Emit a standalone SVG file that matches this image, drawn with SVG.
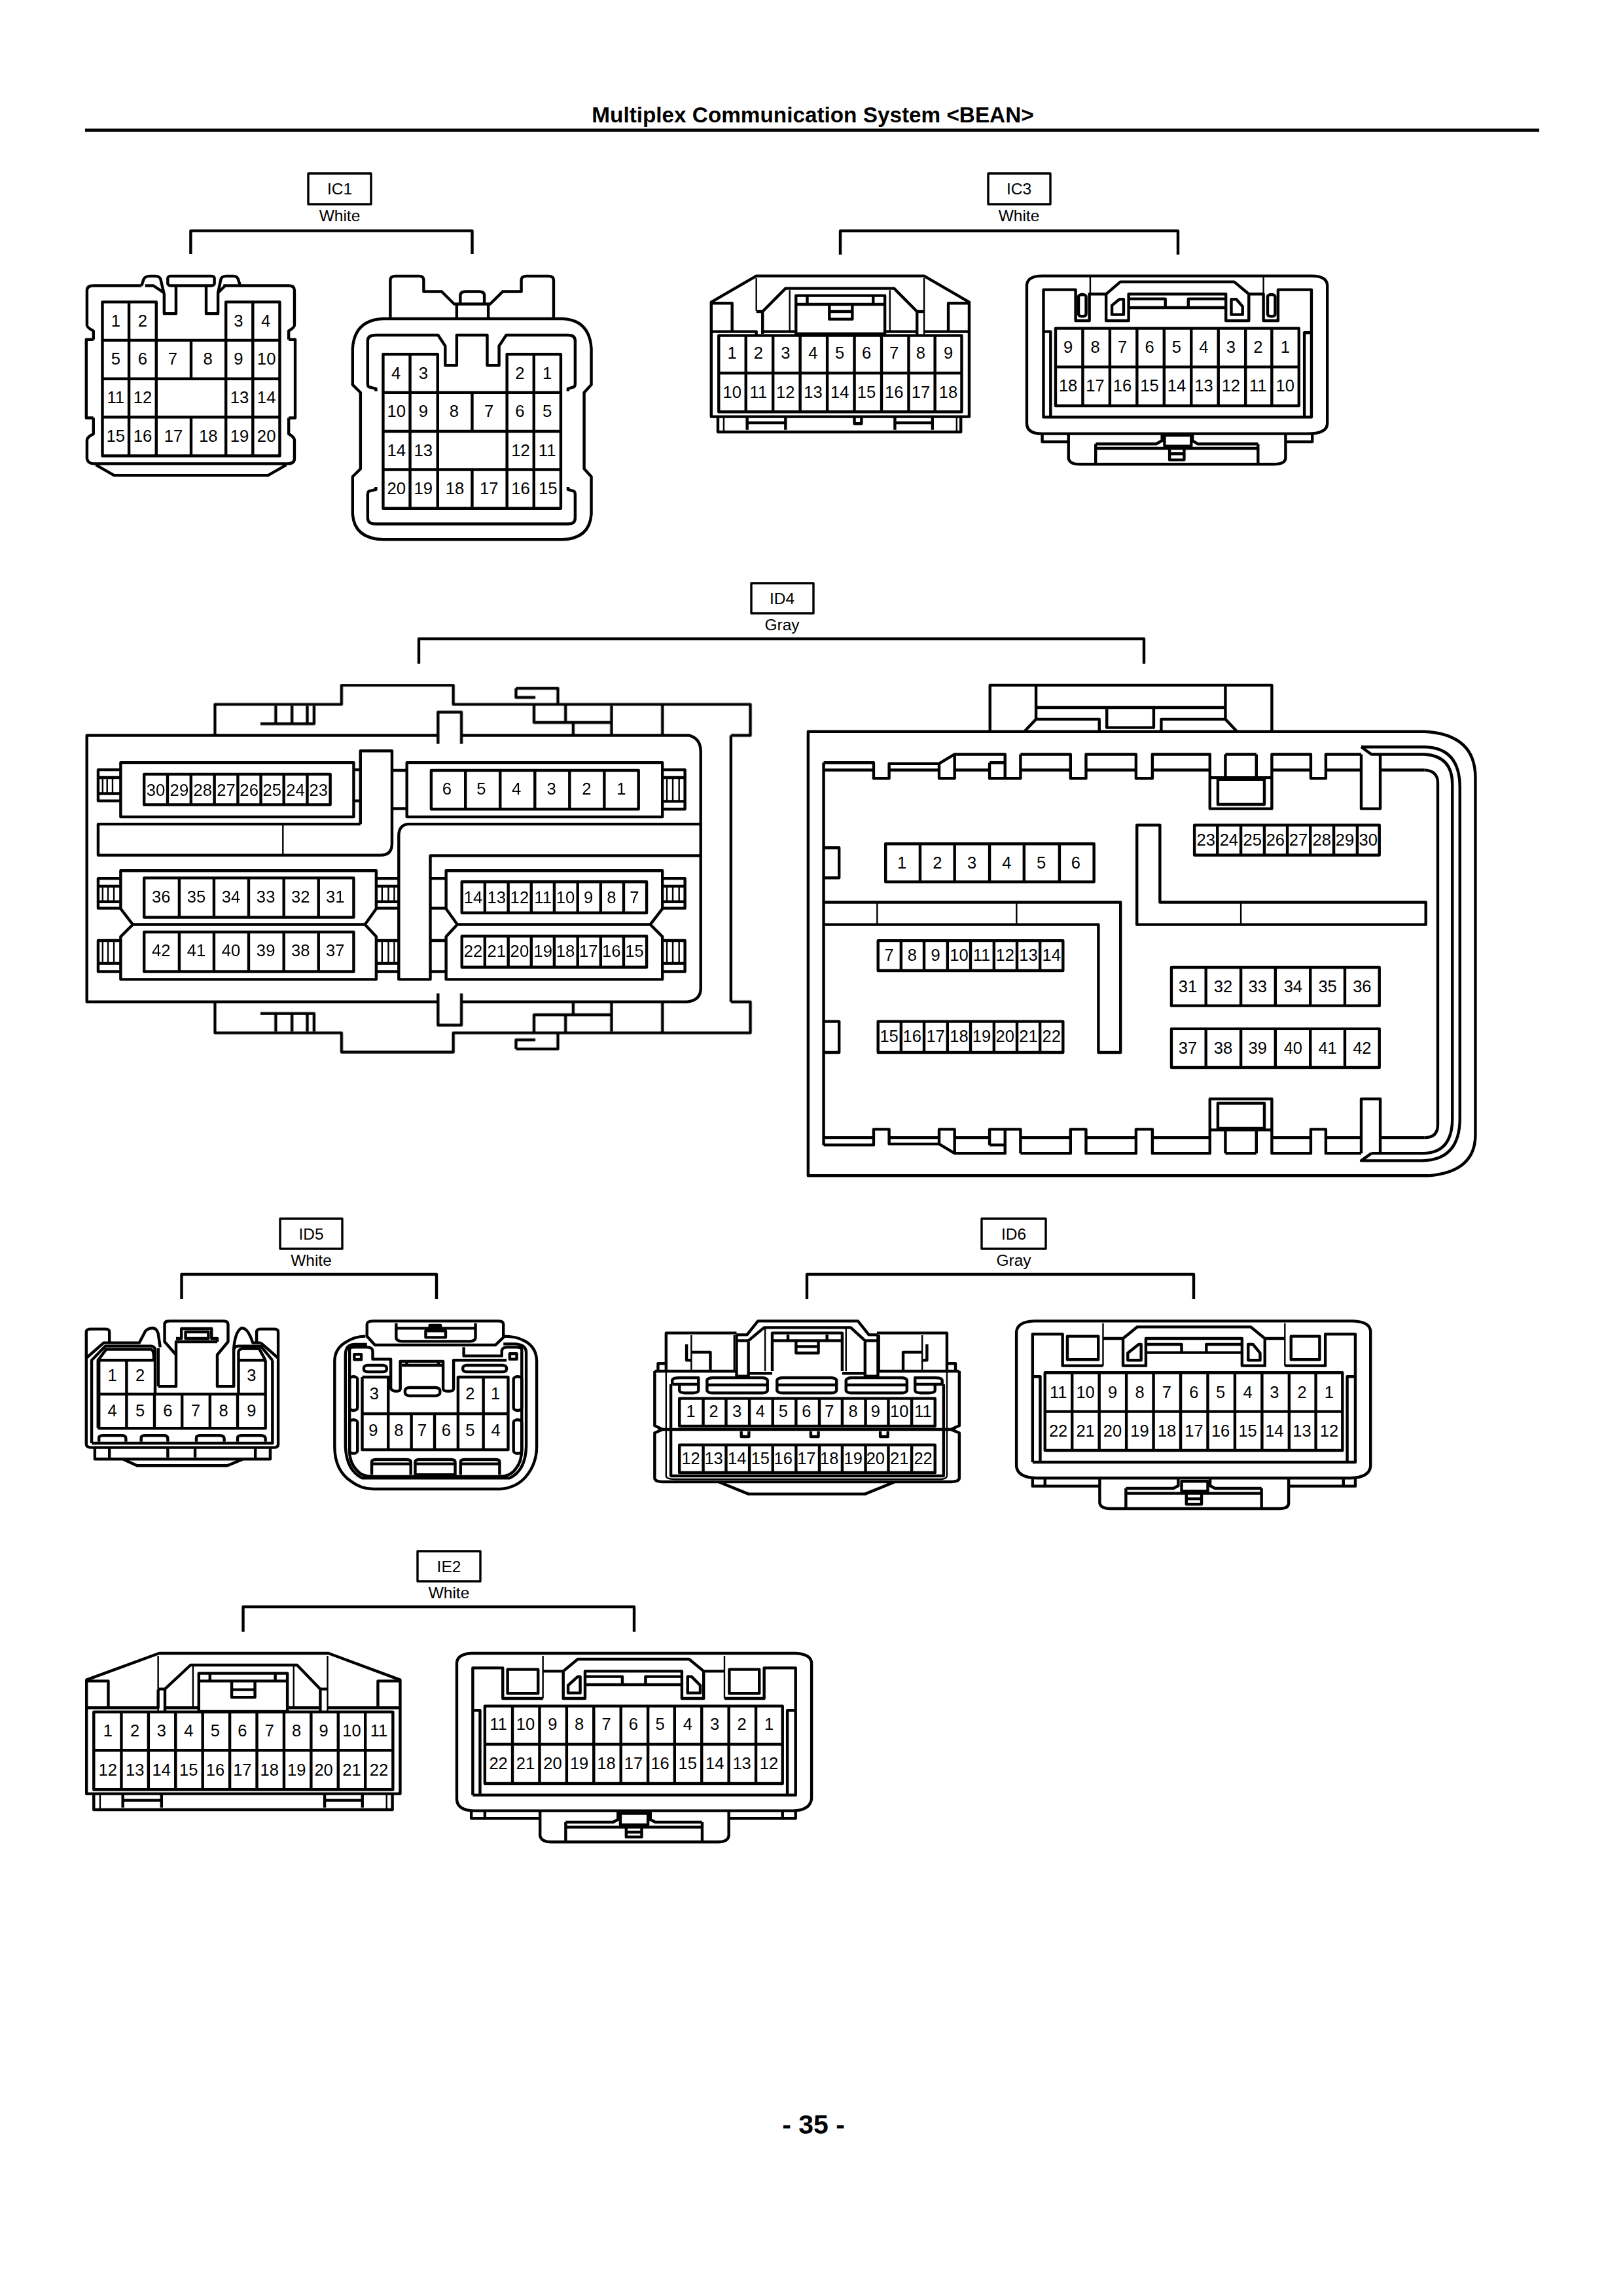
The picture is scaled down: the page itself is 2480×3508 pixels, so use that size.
<svg xmlns="http://www.w3.org/2000/svg" xmlns:xlink="http://www.w3.org/1999/xlink" width="2480" height="3508" viewBox="0 0 2480 3508">
<style>
text{font-family:"Liberation Sans",Arial,sans-serif;fill:#000}
path,rect,use{fill:none;stroke:#000;stroke-width:4.4;stroke-linejoin:round;vector-effect:non-scaling-stroke}
.h{stroke-width:2.4}
.bg{fill:#fff;stroke:none}
.l text{font-size:24.5px;text-anchor:middle}
.l rect{stroke-width:3.4}
.title{font-weight:bold;font-size:33.3px;text-anchor:middle}
.page{font-weight:bold;font-size:41px;text-anchor:middle}
.c,.l{opacity:.999}
.c text{text-anchor:middle;transform-box:fill-box;transform-origin:center}
.z1 text{font-size:65px;transform:scaleX(.72)}
.z2 text{font-size:76.5px;transform:scaleX(.523)}
.z3 text{font-size:65px;transform:scaleX(.574)}
.z4 text{font-size:50px;transform:scaleX(.755)}
.z5 text{font-size:76.5px;transform:scaleX(.688)}
.z6 text{font-size:76.5px;transform:scaleX(.458)}
.z7 text{font-size:76.5px;transform:scaleX(.451)}
</style>
<defs>
<path id="id4lhalf" d="M317,262V142H598V68H846V142H1025M846,142H1505V262H1462M1025,142V212H1195M985,80H1078V142H1095V212M985,80V115H1028M1112,215V262M1197,148V262M1310,142V262M418,217H537V148M452,148V217M488,148V217M522,148V217M812,295V172H864V295"/>
<path id="id4rhalf" d="M57,265H170V312H205V268H318L353,240H467V312M57,287H170M205,287H318M318,268V312H353V240M353,287H432M432,265V312H502V240M432,265H467M502,240H615V312H650V240H763V312H800V240H930V403H1070V240H1158V312H1192V240H1272M502,287H615M650,287H763M800,287H930M965,240V310M1035,240V310M930,310H1070M965,240H1035M948,390V315H1053V390ZM1070,287H1158M1192,287H1272M1272,240V403H1315V240M1315,287H1415"/>
</defs>
<rect class="bg" x="0" y="0" width="2480" height="3508"/>
<g id="header"><text class="title" x="1242" y="187">Multiplex Communication System &lt;BEAN&gt;</text><path d="M130,199H2352" style="stroke-width:5"/></g>
<g id="footer"><text class="page" x="1243" y="3260">- 35 -</text></g>

<g id="connectors">
<path d="M291.4,388V352.6H721.5V388"/>
<path d="M1284,389V352.7H1800V389"/>
<path d="M640,1014V976H1748V1014"/>
<path d="M277.5,1985V1947H667V1985"/>
<path d="M1233,1985V1947H1824V1985"/>
<path d="M371.5,2493V2455H969V2493"/>
</g>

<g id="label-IC1" class="l"><rect x="471" y="265" width="96" height="47"/><text x="519" y="297">IC1</text><text x="519" y="338">White</text></g>
<g id="label-IC3" class="l"><rect x="1510" y="265" width="95" height="47"/><text x="1557" y="297">IC3</text><text x="1557" y="338">White</text></g>
<g id="label-ID4" class="l"><rect x="1148" y="891" width="95" height="46"/><text x="1195" y="923">ID4</text><text x="1195" y="963">Gray</text></g>
<g id="label-ID5" class="l"><rect x="428" y="1862" width="95" height="46"/><text x="475.5" y="1894">ID5</text><text x="475.5" y="1934">White</text></g>
<g id="label-ID6" class="l"><rect x="1500" y="1862" width="98" height="46"/><text x="1549" y="1894">ID6</text><text x="1549" y="1934">Gray</text></g>
<g id="label-IE2" class="l"><rect x="638" y="2370" width="96" height="46"/><text x="686" y="2402">IE2</text><text x="686" y="2442">White</text></g>

<g id="IC1-left" class="c z1" transform="translate(100 240) scale(.5485 .3953)">
<path d="M212,497H78Q60,497 60,515V650Q60,658 78,672V705M440,497H622Q638,497 638,515V650Q638,658 622,672V705M78,705H58V1008H78M622,705H640V1008H622M78,1008V1070Q60,1082 60,1095V1165Q62,1185 80,1185H620Q638,1185 638,1165V1095Q638,1082 622,1070V1008"/>
<path d="M85,1190L135,1230H565L615,1190"/>
<path d="M212,497L218,472Q222,460 235,460H250Q262,460 265,472L275,530V605H308V497M222,497H245L272,522M392,497V605H425V525L433,472Q436,460 448,460H468Q478,460 481,472L487,497M425,525L445,497"/>
<rect x="285" y="460" width="130" height="37" rx="8"/>
<path d="M253,708V560H103V1155H597V560H447V708M103,708H597M103,857H597M103,1005H597M177,560V1155M522,560V1155M253,708V1155M447,708V1155M350,708V857M350,1005V1155"/>
<text x="140" y="655">1</text><text x="215" y="655">2</text><text x="482" y="655">3</text><text x="558" y="655">4</text>
<text x="140" y="803">5</text><text x="215" y="803">6</text><text x="299" y="803">7</text><text x="397" y="803">8</text><text x="482" y="803">9</text><text x="560" y="803">10</text>
<text x="140" y="952">11</text><text x="215" y="952">12</text><text x="485" y="952">13</text><text x="560" y="952">14</text>
<text x="140" y="1100">15</text><text x="215" y="1100">16</text><text x="301" y="1100">17</text><text x="398" y="1100">18</text><text x="485" y="1100">19</text><text x="560" y="1100">20</text>
</g>

<g id="IC1-right" class="c z1" transform="translate(100 240) scale(.5485 .3953)">
<path d="M885,625H1385Q1460,630 1465,740V880L1445,910V1205L1465,1235V1380Q1460,1475 1385,1478H885Q805,1475 800,1380V1235L822,1205V910L800,880V740Q805,630 885,625Z"/>
<path d="M865,905V895L845,888Q842,885 842,875V710Q842,688 865,688H1038L1058,730V805H1090V688H1175V805H1208V730L1228,688H1400Q1420,688 1420,710V875Q1420,885 1417,888L1400,895V905M865,1275V1285L845,1292Q842,1295 842,1305V1395Q842,1418 865,1418H1400Q1420,1418 1420,1395V1305Q1420,1295 1417,1292L1400,1285V1275"/>
<path d="M905,625V475Q905,460 920,460H985Q998,460 998,475V520H1048L1083,568H1183L1218,520H1270V475Q1270,460 1285,460H1345Q1360,460 1360,475V625M1100,568V535Q1100,520 1115,520H1152Q1167,520 1167,535V568M1090,568V625M1178,568V625"/>
<path d="M1037,910V762H885V1358H1380V762H1230V910M885,910H1380M885,1060H1380M885,1208H1380M960,762V1358M1305,762V1358M1037,910V1358M1230,910V1358M1133,910V1060M1133,1208V1358"/>
<text x="921" y="857">4</text><text x="997" y="857">3</text><text x="1266" y="857">2</text><text x="1342" y="857">1</text>
<text x="922" y="1005">10</text><text x="997" y="1005">9</text><text x="1083" y="1005">8</text><text x="1180" y="1005">7</text><text x="1266" y="1005">6</text><text x="1342" y="1005">5</text>
<text x="922" y="1155">14</text><text x="997" y="1155">13</text><text x="1268" y="1155">12</text><text x="1342" y="1155">11</text>
<text x="922" y="1303">20</text><text x="997" y="1303">19</text><text x="1085" y="1303">18</text><text x="1180" y="1303">17</text><text x="1268" y="1303">16</text><text x="1344" y="1303">15</text>
</g>

<g id="IC3-left" class="c z2" transform="translate(1060 240) scale(.6378 .3333)">
<path d="M42,1190V665L150,545H552L660,665V1190Z"/>
<path d="M58,1190V1260H640V1190M128,1190V1250M220,1190V1250M130,1218H220M482,1190V1250M572,1190V1250M482,1218H572M385,1190V1222H402V1190"/>
<path class="h" d="M72,1190V1260M630,1190V1260M230,610V800M470,610V800M150,555V705M552,555V818"/>
<path d="M42,670H92V800M660,670H610V800M42,800H150V818M552,800H660M150,708H165V810M165,708L220,602H480L535,708H552M535,708V818M165,800H245M458,800H535"/>
<path d="M245,635H458V810H245ZM245,675H458M272,640V670M430,640V670M325,678V743H380V678M325,708H380"/>
<path d="M60,818H642V1168H60ZM60,990H642M125,818V1168M190,818V1168M255,818V1168M320,818V1168M385,818V1168M450,818V1168M515,818V1168M578,818V1168"/>
<text x="92" y="925">1</text><text x="155" y="925">2</text><text x="220" y="925">3</text><text x="286" y="925">4</text><text x="350" y="925">5</text><text x="414" y="925">6</text><text x="480" y="925">7</text><text x="544" y="925">8</text><text x="610" y="925">9</text>
<text x="92" y="1103">10</text><text x="155" y="1103">11</text><text x="220" y="1103">12</text><text x="286" y="1103">13</text><text x="350" y="1103">14</text><text x="414" y="1103">15</text><text x="480" y="1103">16</text><text x="544" y="1103">17</text><text x="610" y="1103">18</text>
</g>

<g id="IC3-right" class="c z2" transform="translate(1060 240) scale(.6378 .3333)">
<path d="M835,545H1480Q1518,545 1518,590V1220Q1518,1268 1470,1268H835Q798,1268 798,1220V590Q798,545 835,545Z"/>
<path d="M838,1192V608H915V750H948V628H988L1022,572H1295L1330,628H1365V750H1400V608H1480V1192ZM988,628V750H1042V628H1275V750H1330V628M1042,690H1275M1042,650H1130V685M1275,650H1185V685M1002,680L1020,652H1030V722H1002ZM1300,652H1288V722H1315V685ZM838,800H855V1192M1480,805H1463V1192"/>
<path class="h" d="M950,545V628M1365,545V628"/>
<rect x="922" y="630" width="18" height="100" rx="9"/><rect x="1375" y="630" width="18" height="100" rx="9"/>
<path d="M867,785H1450V1140H867ZM867,962H1450M932,785V1140M997,785V1140M1062,785V1140M1127,785V1140M1192,785V1140M1257,785V1140M1322,785V1140M1385,785V1140"/>
<text x="897" y="897">9</text><text x="962" y="897">8</text><text x="1027" y="897">7</text><text x="1092" y="897">6</text><text x="1157" y="897">5</text><text x="1222" y="897">4</text><text x="1287" y="897">3</text><text x="1352" y="897">2</text><text x="1417" y="897">1</text>
<text x="897" y="1075">18</text><text x="962" y="1075">17</text><text x="1027" y="1075">16</text><text x="1092" y="1075">15</text><text x="1157" y="1075">14</text><text x="1222" y="1075">13</text><text x="1287" y="1075">12</text><text x="1352" y="1075">11</text><text x="1417" y="1075">10</text>
<path d="M898,1268V1380Q900,1408 925,1408H1390Q1417,1408 1418,1380V1268M835,1268V1305H898M1418,1305H1482V1268M963,1315H1108L1122,1300V1275H1195V1300L1208,1315H1352M963,1335H1352M963,1315V1408M1352,1315V1408M1128,1275V1325H1192V1275M1140,1335V1388H1175V1335M1140,1360H1175"/>
</g>

<g id="ID4-left" class="c z3" transform="translate(110 1020) scale(.6887 .3953)">
<use href="#id4lhalf" xlink:href="#id4lhalf"/>
<use href="#id4lhalf" xlink:href="#id4lhalf" transform="translate(0 1554) scale(1 -1)"/>
<path d="M812,262H33V1292H812M864,1292H1365Q1395,1285 1395,1240V325Q1395,275 1370,262H864"/>
<path d="M1462,262V1292"/>
<path d="M108,367H625V577H108ZM108,395H58V515H108M58,425H108M58,487H108M625,395H640M625,515H640M640,605V322H710V680Q710,725 685,725H58V605H640"/>
<path class="h" d="M468,605V725M68,425V487M78,425V487M90,425V487M1320,425V517M1333,425V517M1347,425V517M68,845V905M80,845V905M93,845V905M68,1055V1143M80,1055V1143M93,1055V1143M688,845V905M702,845V905M715,845V905M688,1055V1143M702,1055V1143M715,1055V1143M1320,845V905M1333,845V905M1347,845V905M1320,1055V1143M1333,1055V1143M1347,1055V1143"/>
<path d="M160,412H573V530H160ZM212,412V530M264,412V530M316,412V530M368,412V530M419,412V530M470,412V530M522,412V530"/>
<text x="186" y="495">30</text><text x="238" y="495">29</text><text x="290" y="495">28</text><text x="342" y="495">27</text><text x="393" y="495">26</text><text x="444" y="495">25</text><text x="496" y="495">24</text><text x="547" y="495">23</text>
<path d="M743,367H1310V577H743ZM710,397H743M710,545H743M1310,395H1360V547H1310M1310,425H1360M1310,517H1360"/>
<path d="M797,397H1257V547H797ZM873,397V547M950,397V547M1027,397V547M1104,397V547M1181,397V547"/>
<text x="832" y="492">6</text><text x="908" y="492">5</text><text x="986" y="492">4</text><text x="1064" y="492">3</text><text x="1142" y="492">2</text><text x="1219" y="492">1</text>
<path d="M1393,605H745Q725,610 725,650V1205H795V727H1393"/>
<path d="M108,785H675V932L650,993L675,1040V1205H108V1040L135,993L108,932ZM135,993H650"/>
<path d="M108,815H58V930H108M58,845H108M58,905H108M108,1055H58V1175H108M58,1143H108M675,815H725M675,845H725M675,905H725M675,930H725M675,1055H725M675,1143H725M675,1175H725M795,815H830M795,930H830M795,1055H830M795,1175H830M1310,815H1360V930H1310M1310,845H1360M1310,905H1360M1310,1055H1360V1175H1310M1310,1143H1360"/>
<path d="M160,813H625V965H160ZM238,813V965M315,813V965M392,813V965M470,813V965M547,813V965M160,1022H625V1175H160ZM238,1022V1175M315,1022V1175M392,1022V1175M470,1022V1175M547,1022V1175"/>
<text x="198" y="908">36</text><text x="276" y="908">35</text><text x="353" y="908">34</text><text x="430" y="908">33</text><text x="507" y="908">32</text><text x="584" y="908">31</text>
<text x="198" y="1115">42</text><text x="276" y="1115">41</text><text x="353" y="1115">40</text><text x="430" y="1115">39</text><text x="507" y="1115">38</text><text x="584" y="1115">37</text>
<path d="M830,785H1310V932L1283,993L1310,1040V1205H830V1040L855,993L830,932ZM855,993H1283"/>
<path d="M865,828H1275V948H865ZM916,828V948M968,828V948M1019,828V948M1070,828V948M1122,828V948M1173,828V948M1224,828V948M865,1038H1275V1158H865ZM916,1038V1158M968,1038V1158M1019,1038V1158M1070,1038V1158M1122,1038V1158M1173,1038V1158M1224,1038V1158"/>
<text x="890" y="910">14</text><text x="942" y="910">13</text><text x="993" y="910">12</text><text x="1045" y="910">11</text><text x="1095" y="910">10</text><text x="1146" y="910">9</text><text x="1197" y="910">8</text><text x="1248" y="910">7</text>
<text x="890" y="1117">22</text><text x="942" y="1117">21</text><text x="993" y="1117">20</text><text x="1045" y="1117">19</text><text x="1095" y="1117">18</text><text x="1146" y="1117">17</text><text x="1197" y="1117">16</text><text x="1248" y="1117">15</text>
</g>

<g id="ID4-right" class="c z4" transform="translate(1220 1030) scale(.6761 .5102)">
<path d="M22,172H1415Q1530,180 1530,310V1380Q1530,1490 1425,1502H22Z"/>
<path d="M433,172V33H1070V172M537,33V135L512,170M965,33V135L990,170M537,100H965M537,135H680V170M965,135H820V170M697,103V160H803V103"/>
<use href="#id4rhalf" xlink:href="#id4rhalf"/>
<use href="#id4rhalf" xlink:href="#id4rhalf" transform="translate(0 1675) scale(1 -1)"/>
<path d="M57,265V1410M1272,218H1415Q1495,220 1495,340V1330Q1495,1455 1410,1457H1272L1295,1435M1272,218L1295,240H1415Q1478,245 1478,330V1330Q1478,1432 1415,1435H1295M1415,287Q1445,290 1445,325V1350Q1445,1388 1415,1388"/>
<path d="M57,520H92V610H57M57,1040H92V1133H57M57,683H728V1133H678V750H57M765,452H817V683H1418V750H765Z"/>
<path class="h" d="M178,683V750M493,683V750M1000,683V750"/>
<path d="M197,508H668V622H197ZM275,508V622M353,508V622M432,508V622M510,508V622M590,508V622"/>
<text x="234" y="583">1</text><text x="314" y="583">2</text><text x="392" y="583">3</text><text x="471" y="583">4</text><text x="549" y="583">5</text><text x="627" y="583">6</text>
<path d="M895,452H1313V542H895ZM947,452V542M1000,452V542M1053,452V542M1105,452V542M1157,452V542M1210,452V542M1263,452V542"/>
<text x="921" y="513">23</text><text x="973" y="513">24</text><text x="1026" y="513">25</text><text x="1078" y="513">26</text><text x="1130" y="513">27</text><text x="1183" y="513">28</text><text x="1235" y="513">29</text><text x="1288" y="513">30</text>
<path d="M180,798H598V888H180ZM232,798V888M284,798V888M337,798V888M389,798V888M442,798V888M494,798V888M546,798V888M180,1040H598V1133H180ZM232,1040V1133M284,1040V1133M337,1040V1133M389,1040V1133M442,1040V1133M494,1040V1133M546,1040V1133"/>
<text x="205" y="858">7</text><text x="257" y="858">8</text><text x="310" y="858">9</text><text x="363" y="858">10</text><text x="414" y="858">11</text><text x="467" y="858">12</text><text x="520" y="858">13</text><text x="572" y="858">14</text>
<text x="205" y="1102">15</text><text x="257" y="1102">16</text><text x="310" y="1102">17</text><text x="363" y="1102">18</text><text x="414" y="1102">19</text><text x="467" y="1102">20</text><text x="520" y="1102">21</text><text x="572" y="1102">22</text>
<path d="M843,878H1313V993H843ZM921,878V993M1000,878V993M1078,878V993M1157,878V993M1235,878V993M843,1062H1313V1178H843ZM921,1062V1178M1000,1062V1178M1078,1062V1178M1157,1062V1178M1235,1062V1178"/>
<text x="880" y="952">31</text><text x="960" y="952">32</text><text x="1038" y="952">33</text><text x="1118" y="952">34</text><text x="1196" y="952">35</text><text x="1274" y="952">36</text>
<text x="880" y="1137">37</text><text x="960" y="1137">38</text><text x="1038" y="1137">39</text><text x="1118" y="1137">40</text><text x="1196" y="1137">41</text><text x="1274" y="1137">42</text>
</g>

<g id="ID5-left" class="c z5" transform="translate(110 1980) scale(.4847 .3333)">
<path d="M45,285V680Q45,695 65,695H635Q650,695 650,680V285M45,285V165Q45,152 60,152H105Q118,152 118,165V215H100L45,285M118,215H212L232,160Q242,147 255,147Q268,150 272,175L278,235M272,415V240M272,415H328V270L292,210V130Q292,115 308,115H478Q492,115 492,130V210L458,270V415H510V240Q515,160 535,147Q555,147 570,215H595M582,215V165Q582,152 595,152H637Q650,152 650,165V285L595,215"/>
<path d="M328,270V210H458M328,195H345V150H440V195H458V210M358,165H430V195H358Z"/>
<path d="M62,675V295L105,230H250Q262,232 262,250V445M82,605V295L108,245H250Q258,250 258,290M525,445V255Q527,242 540,242H590L610,295M632,295L595,230H525Q510,232 510,250M632,295V675H62"/>
<path d="M85,295H260M522,295H610M85,295V607H610V295M85,450H610M172,295V607M260,450V607M347,450V607M435,450V607M522,450V607"/>
<text x="127" y="390">1</text><text x="215" y="390">2</text><text x="566" y="390">3</text>
<text x="127" y="552">4</text><text x="215" y="552">5</text><text x="302" y="552">6</text><text x="390" y="552">7</text><text x="478" y="552">8</text><text x="566" y="552">9</text>
<path d="M85,668V650Q85,640 100,640H158Q170,640 170,655V668M218,668V650Q218,640 232,640H290Q302,640 302,655V668M392,668V650Q392,640 406,640H465Q480,640 480,655V668M522,668V650Q522,640 536,640H595Q610,640 610,655V668"/>
<path d="M72,700V748H625V700M118,700V748M578,700V748M302,700V740M388,700V740M160,748L205,778H490L540,748"/>
</g>

<g id="ID5-right" class="c z5" transform="translate(110 1980) scale(.4847 .3333)">
<path d="M925,185Q890,185 860,215Q828,245 828,300V690Q828,800 880,850Q910,885 950,885H1350Q1400,880 1430,830Q1465,770 1465,690V300Q1465,235 1425,205Q1400,185 1360,185"/>
<path d="M930,185V130Q930,115 950,115H1345Q1360,115 1360,130V190L1335,225H955L930,185ZM1022,125V190Q1022,208 1040,208H1255Q1272,208 1272,190V125M1022,148H1272M1115,190H1178V160H1115ZM1128,148V135H1162V148"/>
<path d="M875,720V245Q875,235 890,235H930Q948,235 948,255V290H1005V425Q1010,437 1022,437Q1035,437 1035,425V300H1170V425Q1170,437 1187,437Q1203,437 1203,425V295H1370M875,720Q878,780 910,815Q925,828 950,828H1350Q1385,825 1400,790Q1418,760 1418,700V245Q1418,235 1400,235H1370Q1358,235 1355,250V275H1235V235M862,270V690Q865,800 915,835H1380Q1430,800 1432,690V260Q1432,225 1400,220H1360M862,270Q862,225 890,222H930"/>
<rect x="890" y="268" width="22" height="24"/><rect x="1380" y="265" width="22" height="25"/>
<path d="M1040,318H1170M1055,300V318M1155,300V318"/>
<rect x="1050" y="420" width="110" height="38" rx="14"/><rect x="920" y="318" width="72" height="30" rx="12"/><rect x="1232" y="318" width="138" height="30" rx="12"/>
<path d="M915,372H997V540M915,372V705H1375V372H1217V540M915,540H1375M1297,372V705M997,540V705M1070,540V705M1143,540V705M1217,540V705"/>
<text x="953" y="475">3</text><text x="1255" y="475">2</text><text x="1335" y="475">1</text>
<text x="950" y="642">9</text><text x="1030" y="642">8</text><text x="1104" y="642">7</text><text x="1180" y="642">6</text><text x="1255" y="642">5</text><text x="1336" y="642">4</text>
<rect x="875" y="370" width="25" height="155" rx="12"/><rect x="875" y="568" width="25" height="154" rx="12"/><rect x="1392" y="370" width="26" height="155" rx="12"/><rect x="1392" y="568" width="26" height="154" rx="12"/>
<path d="M945,820V762Q945,750 958,750H1055Q1068,750 1068,762V820M945,770H1068M1082,820V762Q1082,750 1095,750H1195Q1208,750 1208,762V820ZM1082,770H1208M1225,820V762Q1225,750 1238,750H1335Q1348,750 1348,762V820M1225,770H1348"/>
</g>

<g id="ID6-left" class="c z6" transform="translate(980 1980) scale(.7273 .3333)">
<path d="M28,345V595L45,612L28,628V835Q28,852 45,852H650Q668,852 668,835V628L650,612L668,595V345M28,345H200M495,345H668M35,612H660M162,852L225,908H470L533,852"/>
<path class="h" d="M52,345V825Q52,840 70,840H630Q642,838 642,825V345"/>
<path d="M52,345V170H200M495,170H642V345M35,345V310H52M660,345V310H642M200,178H222L245,115H455L478,178H495M200,205H225L258,145H440L470,205H495M200,178V368H225V205M470,205V368H497V178M275,345V170H422V345M275,205H422M308,178V205M390,178V205M325,205V262H372V205M325,232H372M95,222V295H105M105,258H145V345M600,222V295H590M590,258H550V345M225,355H275M422,355H470"/>
<path class="h" d="M105,180V345M195,180V345M590,180V345M500,180V345M260,145V345M430,145V345"/>
<path d="M62,405V825H635V405"/>
<path d="M65,405V388Q65,375 80,375H120V432Q120,445 105,445H95Q80,445 80,432V405M65,405H120M632,405V388Q632,375 617,375H575V432Q575,445 590,445H603Q617,445 617,432V405M575,405H632M138,408H265M285,408H410M430,408H558"/>
<rect x="138" y="375" width="127" height="70" rx="12"/><rect x="285" y="375" width="125" height="70" rx="12"/><rect x="430" y="375" width="128" height="70" rx="12"/>
<path d="M80,470H617V597H80ZM130,470V597M178,470V597M227,470V597M276,470V597M325,470V597M374,470V597M422,470V597M471,470V597M519,470V597M568,470V597"/>
<text x="104" y="555">1</text><text x="152" y="555">2</text><text x="201" y="555">3</text><text x="250" y="555">4</text><text x="298" y="555">5</text><text x="347" y="555">6</text><text x="395" y="555">7</text><text x="445" y="555">8</text><text x="492" y="555">9</text><text x="542" y="555">10</text><text x="592" y="555">11</text>
<path d="M210,620V645H226V620M356,620V645H372V620M502,620V645H518V620"/>
<path d="M80,683H617V810H80ZM130,683V810M178,683V810M227,683V810M276,683V810M325,683V810M374,683V810M422,683V810M471,683V810M519,683V810M568,683V810"/>
<text x="104" y="770">12</text><text x="152" y="770">13</text><text x="201" y="770">14</text><text x="250" y="770">15</text><text x="298" y="770">16</text><text x="347" y="770">17</text><text x="395" y="770">18</text><text x="445" y="770">19</text><text x="492" y="770">20</text><text x="542" y="770">21</text><text x="592" y="770">22</text>
</g>

<g id="ID6-right" class="c z6" transform="translate(980 1980) scale(.7273 .3333)">
<path d="M825,115H1495Q1532,118 1532,165V780Q1530,832 1490,835H830Q790,832 788,780V165Q790,118 825,115Z"/>
<path d="M822,762V175H885V320H970M970,195H1012L1042,142H1280L1310,195H1352M1352,320H1437V175H1500V762H822M895,185V292H960V185ZM1365,185V292H1425V185ZM1012,195V320H1060V195H1262V320H1310V195M1060,260H1262M1060,222H1135V255M1262,222H1187V255M1022,262L1045,222H1050V295H1022ZM1275,222H1285L1300,262V295H1275ZM822,370H838V762M1500,370H1483V762"/>
<path class="h" d="M970,125V320M1352,125V320"/>
<path d="M848,352H1473V708H848ZM848,530H1473M905,352V708M962,352V708M1019,352V708M1076,352V708M1133,352V708M1190,352V708M1247,352V708M1304,352V708M1361,352V708M1417,352V708"/>
<text x="876" y="467">11</text><text x="933" y="467">10</text><text x="990" y="467">9</text><text x="1047" y="467">8</text><text x="1104" y="467">7</text><text x="1161" y="467">6</text><text x="1217" y="467">5</text><text x="1274" y="467">4</text><text x="1330" y="467">3</text><text x="1388" y="467">2</text><text x="1445" y="467">1</text>
<text x="876" y="645">22</text><text x="933" y="645">21</text><text x="990" y="645">20</text><text x="1047" y="645">19</text><text x="1104" y="645">18</text><text x="1161" y="645">17</text><text x="1217" y="645">16</text><text x="1274" y="645">15</text><text x="1330" y="645">14</text><text x="1388" y="645">13</text><text x="1445" y="645">12</text>
<path d="M963,835V950Q965,975 985,975H1340Q1360,975 1360,950V835M822,835V872H963M1360,872H1500V835M848,835V872M1475,835V872M1018,882H1118L1128,870V840M1195,840V870L1205,882H1303M1018,905H1303M1018,882V975M1303,882V975M1135,850V895H1190V850ZM1145,905V955H1177V905M1145,930H1177"/>
</g>

<g id="IE2-left" class="c z7" transform="translate(110 2500) scale(.7396 .3333)">
<path d="M30,722V200L180,78H530L678,200V722Z"/>
<path d="M30,205H75V325M678,205H632V325M30,328H178V245M192,245V350M178,242H192L245,132H465L513,242H528M513,242V350M528,328H678M192,328H262M445,328H513M262,170H445V345H262ZM262,205H445M285,172V205M420,172V205M330,205V280H378V205M330,245H378"/>
<path class="h" d="M178,90V350M528,90V350M250,135V325M458,135V325"/>
<path d="M45,347H663V703H45ZM45,523H663M102,347V703M158,347V703M214,347V703M270,347V703M326,347V703M382,347V703M438,347V703M494,347V703M550,347V703M606,347V703"/>
<text x="74" y="460">1</text><text x="130" y="460">2</text><text x="185" y="460">3</text><text x="241" y="460">4</text><text x="296" y="460">5</text><text x="352" y="460">6</text><text x="408" y="460">7</text><text x="464" y="460">8</text><text x="520" y="460">9</text><text x="578" y="460">10</text><text x="634" y="460">11</text>
<text x="74" y="638">12</text><text x="130" y="638">13</text><text x="185" y="638">14</text><text x="241" y="638">15</text><text x="296" y="638">16</text><text x="352" y="638">17</text><text x="408" y="638">18</text><text x="464" y="638">19</text><text x="520" y="638">20</text><text x="578" y="638">21</text><text x="634" y="638">22</text>
<path d="M45,722V795H662V722M105,722V785M185,722V785M105,752H185M522,722V785M600,722V785M522,752H600"/>
<path class="h" d="M58,722V795M650,722V795"/>
</g>

<g id="IE2-right" class="c z7" transform="translate(110 2500) scale(.7396 .3333)">
<path d="M825,78H1495Q1528,82 1528,125V745Q1525,798 1490,800H830Q795,798 795,745V125Q795,82 825,78Z"/>
<path d="M828,728V145H890V285H973M973,160H1015L1045,105H1275L1305,160H1348M1348,285H1430V145H1495V728H828M900,152V262H963V152ZM1358,152V262H1420V152ZM1015,160V285H1060V160H1260V285H1305V160M1060,222H1260M1060,185H1137V218M1260,185H1185V218M1025,225L1045,185H1050V260H1025ZM1272,185H1280L1298,225V260H1272ZM828,340H843V728M1495,340H1478V728"/>
<path class="h" d="M973,90V285M1348,90V285"/>
<path d="M853,320H1468V675H853ZM853,495H1468M910,320V675M966,320V675M1022,320V675M1078,320V675M1134,320V675M1190,320V675M1245,320V675M1301,320V675M1357,320V675M1413,320V675"/>
<text x="881" y="430">11</text><text x="937" y="430">10</text><text x="993" y="430">9</text><text x="1048" y="430">8</text><text x="1104" y="430">7</text><text x="1160" y="430">6</text><text x="1215" y="430">5</text><text x="1272" y="430">4</text><text x="1328" y="430">3</text><text x="1384" y="430">2</text><text x="1440" y="430">1</text>
<text x="881" y="610">22</text><text x="937" y="610">21</text><text x="993" y="610">20</text><text x="1048" y="610">19</text><text x="1104" y="610">18</text><text x="1160" y="610">17</text><text x="1215" y="610">16</text><text x="1272" y="610">15</text><text x="1328" y="610">14</text><text x="1384" y="610">13</text><text x="1440" y="610">12</text>
<path d="M967,800V915Q970,943 990,943H1335Q1355,943 1357,915V800M825,800V835H967M1357,835H1495V800M853,800V835M1468,800V835M1020,852H1118L1128,840V805M1195,805V840L1205,852H1302M1020,875H1302M1020,852V943M1302,852V943M1133,812V865H1190V812ZM1145,875V920H1177V875M1145,898H1177"/>
</g>
</svg>
